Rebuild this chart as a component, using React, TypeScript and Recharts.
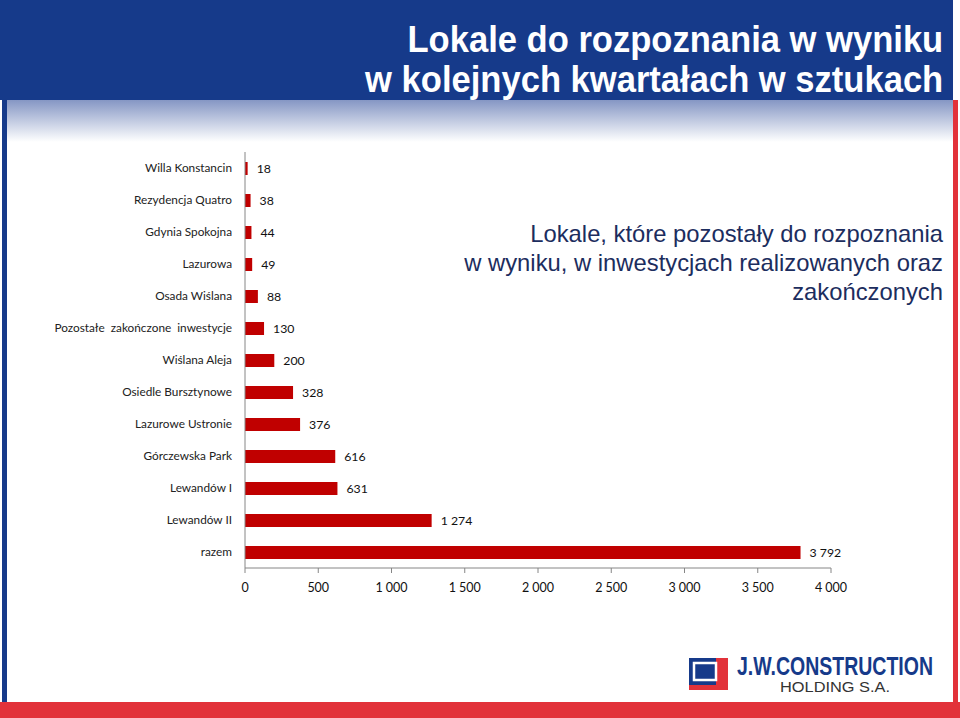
import { BarChart, Bar, XAxis, YAxis, LabelList } from 'recharts';

const projects = [
    'Willa Konstancin',
    'Rezydencja Quatro',
    'Gdynia Spokojna',
    'Lazurowa',
    'Osada Wiślana',
    'Pozostałe\u00a0 zakończone\u00a0 inwestycje',
    'Wiślana Aleja',
    'Osiedle Bursztynowe',
    'Lazurowe Ustronie',
    'Górczewska Park',
    'Lewandów I',
    'Lewandów II',
    'razem',
];
const units = [18, 38, 44, 49, 88, 130, 200, 328, 376, 616, 631, 1274, 3792];
const xTicks = [0, 500, 1000, 1500, 2000, 2500, 3000, 3500, 4000];
const bandTicks = [0, 1, 2, 3, 4, 5, 6, 7, 8, 9, 10, 11, 12, 13];

const titleLines = ['Lokale do rozpoznania w wyniku', 'w kolejnych kwartałach w sztukach'];
const noteLines = ['Lokale, które pozostały do rozpoznania', 'w wyniku, w inwestycjach realizowanych oraz', 'zakończonych'];

const data = projects.map((name, i) => ({ name, value: units[i] }));

// 1274 -> "1 274"
const fmt = (v: any) => String(v).replace(/\B(?=(\d{3})+(?!\d))/g, ' ');

const NAVY = '#163a8a';
const RED = '#e2323a';
const BAR = '#c00000';
const AXIS = '#868686';
const LABEL_FONT = 'Lato, "Open Sans", sans-serif';

export default function App() {
    return (
        <div style={{ position: 'absolute', left: 0, top: 0, width: 960, height: 718, background: '#fff', overflow: 'hidden' }}>
            {/* header */}
            <div style={{ position: 'absolute', left: 0, top: 0, width: 953, height: 100, background: NAVY }} />
            <div style={{ position: 'absolute', left: 7, top: 100, width: 946, height: 42, background: 'linear-gradient(#8596c4, #ffffff)' }} />
            <div style={{ position: 'absolute', left: 2, top: 0, width: 5, height: 702, background: NAVY }} />
            <div style={{ position: 'absolute', left: 953, top: 100, width: 5, height: 618, background: RED }} />
            <div style={{ position: 'absolute', left: 0, top: 702, width: 960, height: 16, background: RED }} />

            <div
                style={{
                    position: 'absolute',
                    right: 17,
                    top: 20,
                    textAlign: 'right',
                    color: '#fff',
                    fontFamily: '"Liberation Sans", Arial, sans-serif',
                    fontWeight: 'bold',
                    fontSize: 36,
                    lineHeight: '40px',
                    whiteSpace: 'nowrap',
                    transform: 'scaleX(0.96)',
                    transformOrigin: 'right center',
                }}
            >
                {titleLines.map((t) => <div key={t}>{t}</div>)}
            </div>

            <div
                style={{
                    position: 'absolute',
                    right: 17,
                    top: 219,
                    textAlign: 'right',
                    color: '#1c2d5e',
                    fontFamily: '"Liberation Sans", Arial, sans-serif',
                    fontSize: 23.8,
                    lineHeight: '29px',
                    whiteSpace: 'nowrap',
                }}
            >
                {noteLines.map((t) => <div key={t}>{t}</div>)}
            </div>

            <div style={{ position: 'absolute', left: 0, top: 0 }}>
                <BarChart
                    width={960}
                    height={718}
                    data={data}
                    layout="vertical"
                    margin={{ top: 152, right: 129, bottom: 120, left: 0 }}
                >
                    <YAxis
                        yAxisId="bands"
                        type="number"
                        domain={[0, 13]}
                        allowDataOverflow
                        ticks={bandTicks}
                        tick={false}
                        tickSize={5}
                        width={5}
                        stroke={AXIS}
                    />
                    <YAxis
                        yAxisId="cat"
                        type="category"
                        dataKey="name"
                        width={240}
                        axisLine={false}
                        tickLine={false}
                        tickSize={0}
                        tickMargin={8}
                        interval={0}
                        tick={{ fontSize: 11.8, fill: '#222', fontFamily: LABEL_FONT }}
                    />
                    <XAxis
                        type="number"
                        domain={[0, 4000]}
                        ticks={xTicks}
                        tickFormatter={fmt}
                        tickSize={5}
                        tickMargin={10}
                        stroke={AXIS}
                        tick={{ fontSize: 12.5, fill: '#111', fontFamily: LABEL_FONT }}
                    />
                    <Bar yAxisId="cat" dataKey="value" fill={BAR} barSize={13} isAnimationActive={false}>
                        <LabelList
                            dataKey="value"
                            position="right"
                            offset={9}
                            formatter={fmt}
                            style={{ fontSize: 12.3, fill: '#111', fontFamily: LABEL_FONT }}
                        />
                    </Bar>
                </BarChart>
            </div>

            {/* logo */}
            <svg style={{ position: 'absolute', left: 686, top: 650 }} width={266} height={46}>
                <rect x={3} y={8} width={39} height={32} fill={NAVY} />
                <polygon points="30,8 42,8 42,40 3,40 3,35 30,35" fill={RED} />
                <rect x={8} y={13} width={22} height={17} fill="none" stroke="#fff" strokeWidth={2.5} />
                <rect x={13} y={17} width={12} height={9} fill={NAVY} />
                <g transform="translate(51,24.5) scale(1,1.35)">
                    <text
                        x={0}
                        y={0}
                        textLength={196}
                        lengthAdjust="spacingAndGlyphs"
                        fill={NAVY}
                        fontFamily='"Liberation Sans", Arial, sans-serif'
                        fontWeight="bold"
                        fontSize={19.4}
                    >
                        J.W.CONSTRUCTION
                    </text>
                </g>
                <text
                    x={94}
                    y={41.5}
                    textLength={110}
                    lengthAdjust="spacingAndGlyphs"
                    fill="#333"
                    fontFamily='"Liberation Sans", Arial, sans-serif'
                    fontSize={14}
                >
                    HOLDING S.A.
                </text>
            </svg>
        </div>
    );
}
